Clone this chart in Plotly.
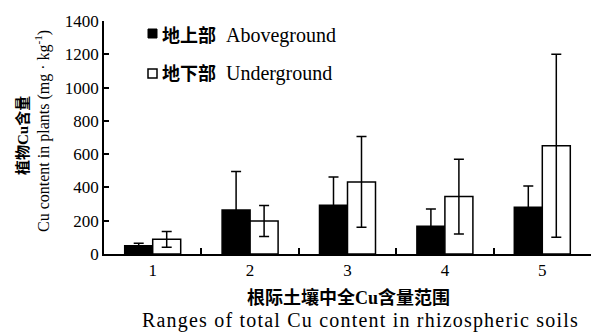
import plotly.graph_objects as go

categories = ["1", "2", "3", "4", "5"]
above_vals = [50, 265, 293, 166, 281]
above_err = [15, 230, 170, 105, 127]
under_vals = [88, 198, 433, 345, 650]
under_err = [47, 93, 273, 225, 550]
y_ticks = [0, 200, 400, 600, 800, 1000, 1200, 1400]

FONT = "Liberation Serif, Noto Sans CJK SC, serif"

L, R, T, B = 104, 0, 21, 79
W, H = 591, 333
PW, PH = W - L - R, H - T - B


def px(x):
    return (x - L) / PW


def py(y):
    return (H - B - y) / PH


fig = go.Figure()
fig.add_trace(go.Bar(
    x=categories, y=above_vals, name="地上部 Aboveground",
    marker=dict(color="black", line=dict(color="black", width=1.5)),
    error_y=dict(type="data", array=above_err, visible=True,
                 color="black", thickness=1.5, width=5),
))
fig.add_trace(go.Bar(
    x=categories, y=under_vals, name="地下部 Underground",
    marker=dict(color="white", line=dict(color="black", width=1.5)),
    error_y=dict(type="data", array=under_err, visible=True,
                 color="black", thickness=1.5, width=5),
))

fig.update_layout(
    width=W, height=H,
    margin=dict(l=L, r=R, t=T, b=B),
    paper_bgcolor="white", plot_bgcolor="white",
    barmode="group", bargap=0.425, bargroupgap=0,
    showlegend=False,
    font=dict(family=FONT, color="black", size=17),
)
fig.update_xaxes(
    type="category", showline=True, linecolor="black", linewidth=1.5,
    ticks="inside", tickson="boundaries", ticklen=6, tickwidth=1.5,
    tickcolor="black", showgrid=False, zeroline=False,
    tickfont=dict(family=FONT, size=17),
)
fig.update_yaxes(
    range=[0, 1400], tickvals=y_ticks, showline=True, linecolor="black",
    linewidth=1.5, ticks="inside", ticklen=5, tickwidth=1.5, tickcolor="black",
    showgrid=False, zeroline=False, tickfont=dict(family=FONT, size=17),
)

ann = [
    dict(text="<b>植物Cu含量</b>", x=px(22), y=py(136), textangle=-90,
         font=dict(size=15)),
    dict(text="Cu content in plants (mg · kg<sup>-1</sup>)", x=px(42), y=py(131),
         textangle=-90, font=dict(size=16)),
    dict(text="<b>根际土壤中全Cu含量范围</b>", x=px(348), y=py(297),
         font=dict(size=18)),
    dict(text='<span style="letter-spacing:1.2px">Ranges of total Cu content in rhizospheric soils</span>',
         x=px(360), y=py(320), font=dict(size=20)),
    dict(text='<b><span style="font-size:18px">地上部</span></b>  Aboveground',
         x=px(160), y=py(35), xanchor="left", font=dict(size=20)),
    dict(text='<b><span style="font-size:18px">地下部</span></b>  Underground',
         x=px(160), y=py(73), xanchor="left", font=dict(size=20)),
]
for a in ann:
    a.setdefault("xanchor", "center")
    a.update(xref="paper", yref="paper", yanchor="middle", showarrow=False)
fig.update_layout(annotations=ann)

fig.add_shape(type="rect", xref="paper", yref="paper",
              x0=px(148), x1=px(157), y0=py(38), y1=py(29),
              fillcolor="black", line=dict(color="black", width=1))
fig.add_shape(type="rect", xref="paper", yref="paper",
              x0=px(148), x1=px(157), y0=py(78), y1=py(69),
              fillcolor="white", line=dict(color="black", width=1.5))

fig.write_html(
    "out.html",
    config={"displayModeBar": False},
    post_script="document.body.style.margin='0';document.body.style.overflow='hidden';",
)
